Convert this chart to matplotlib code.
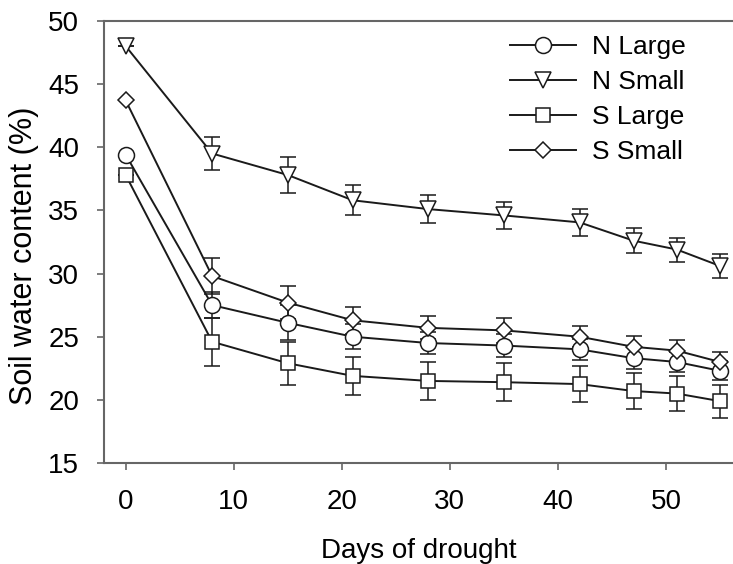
import matplotlib
matplotlib.use("Agg")
import matplotlib.pyplot as plt

plt.rcParams["font.family"] = ["Liberation Sans", "DejaVu Sans"]

days = [0, 8, 15, 21, 28, 35, 42, 47, 51, 55]

n_large = [39.4, 27.5, 26.1, 25.0, 24.5, 24.3, 24.0, 23.3, 23.0, 22.3]
n_large_err = [0, 1.0, 1.4, 1.0, 0.9, 0.9, 0.85, 0.85, 0.8, 0.75]

n_small = [48.0, 39.5, 37.8, 35.8, 35.1, 34.6, 34.05, 32.6, 31.9, 30.6]
n_small_err = [0, 1.3, 1.4, 1.2, 1.1, 1.1, 1.05, 1.0, 0.95, 0.95]

s_large = [37.8, 24.6, 22.9, 21.9, 21.5, 21.4, 21.25, 20.7, 20.5, 19.9]
s_large_err = [0, 1.9, 1.7, 1.5, 1.5, 1.5, 1.45, 1.4, 1.4, 1.3]

s_small = [43.7, 29.8, 27.7, 26.3, 25.7, 25.5, 25.0, 24.2, 23.9, 23.0]
s_small_err = [0, 1.4, 1.3, 1.05, 0.9, 1.0, 0.85, 0.85, 0.85, 0.8]

labels = ["N Large", "N Small", "S Large", "S Small"]

series = [
    (n_large, n_large_err, "o", 11.5),
    (n_small, n_small_err, "v", 12),
    (s_large, s_large_err, "s", 9.5),
    (s_small, s_small_err, "D", 8.5),
]

fig = plt.figure(figsize=(7.33, 5.64), dpi=100)
ax = fig.add_axes([0.142, 0.179, 0.858, 0.784])

line_color = "#1a1a1a"
for (vals, err, mk, ms), lab in zip(series, labels):
    ax.errorbar(days, vals, yerr=err, fmt="none", ecolor=line_color,
                elinewidth=1.1, capsize=6, capthick=1.1, zorder=2)
    ax.plot(days, vals, color=line_color, lw=1.4, marker=mk, ms=ms,
            mfc="white", mec=line_color, mew=1.1, label=lab, zorder=3)

ax.set_xlim(-2, 56.2)
ax.set_ylim(15, 50)
ax.set_xticks(range(0, 51, 10))
ax.set_yticks(range(15, 51, 5))

spine_color = "#666666"
for side in ["left", "bottom", "top"]:
    ax.spines[side].set_color(spine_color)
    ax.spines[side].set_linewidth(1.5)
ax.spines["right"].set_visible(False)
ax.tick_params(direction="out", length=5, width=1.2, color=spine_color,
               labelsize=20)
ax.tick_params(axis="x", pad=14)
ax.tick_params(axis="y", pad=13)

ax.set_xlabel("Days of drought", fontsize=20, labelpad=16)
ax.set_ylabel("Soil water content (%)", fontsize=22)
ax.yaxis.set_label_coords(-0.104, 0.469)

ax.legend(loc="upper left", bbox_to_anchor=(0.645, 0.968), frameon=False,
          fontsize=19, handlelength=2.5, handletextpad=0.6,
          labelspacing=0.42, borderaxespad=0, borderpad=0)

fig.savefig("out.png", dpi=100)
